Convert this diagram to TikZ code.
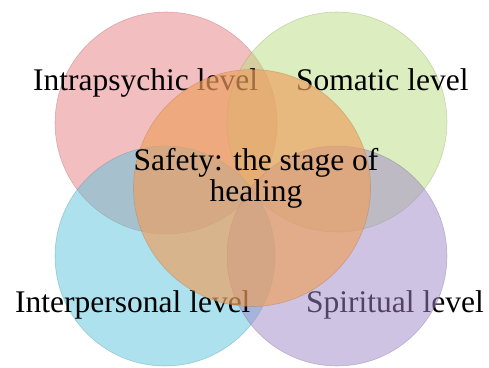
\documentclass[tikz,border=0pt]{standalone}
\usepackage{fontspec}
\setmainfont{Liberation Serif}
\begin{document}
\begin{tikzpicture}[x=1pt,y=-1pt,
  circ/.style={circle, minimum size=#1, inner sep=0pt, draw opacity=0.35, line width=0.6pt},
  lbl/.style={font=\fontsize{31.5}{31.5}\selectfont, inner sep=0pt, anchor=base west, text=black},
  ctr/.style={font=\fontsize{31.5}{31.5}\selectfont, inner sep=0pt, anchor=base, text=black}]
\useasboundingbox (0,0) rectangle (489,367);
\definecolor{cred}{RGB}{232,125,130}
\definecolor{cgreen}{RGB}{185,220,130}
\definecolor{cblue}{RGB}{90,195,220}
\definecolor{cpurple}{RGB}{160,135,200}
\definecolor{corange}{RGB}{236,160,95}
\node[circ=222pt, fill=cred, fill opacity=0.5, draw=cred!70!black] (red) at (166,123) {};
\node[circ=220pt, fill=cgreen, fill opacity=0.5, draw=cgreen!70!black] (green) at (337,122) {};
\node[circ=220pt, fill=cblue, fill opacity=0.5, draw=cblue!70!black] (blue) at (165,256) {};
\node[lbl] (intra) at (33,90) {Intrapsychic level};
\node[lbl] (soma) at (296,90) {Somatic level};
\node[lbl] (spir) at (306,312) {Spiritual level};
\node[circ=220pt, fill=cpurple, fill opacity=0.5, draw=cpurple!70!black] (purple) at (337,256) {};
\node[lbl] (inter) at (15,312) {Interpersonal level};
\node[circ=237pt, fill=corange, fill opacity=0.68, draw=corange!70!black] (orange) at (252,188) {};
\node[ctr] (safety1) at (256,170) {Safety: the stage of};
\node[ctr] (safety2) at (256,201) {healing};
\end{tikzpicture}
\end{document}
